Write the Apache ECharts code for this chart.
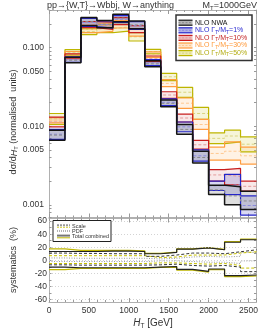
<!DOCTYPE html>
<html><head><meta charset="utf-8">
<script src="https://cdn.jsdelivr.net/npm/echarts@6/dist/echarts.min.js"></script>
<style>html,body{margin:0;padding:0;background:#fff}#c{width:270px;height:331px}</style>
</head><body><div id="c"></div>
<script>
// ---------- data ----------
const binEdges = [0,200,400,600,800,1000,1200,1400,1600,1800,2000,2200,2400,2600];

const nwaLo  = [0.0066,0.064,0.190,0.178,0.213,0.173,0.057,0.0177,0.0079,0.0034,0.00135,0.0010,0.00087];
const nwaMid = [0.0077,0.069,0.214,0.198,0.237,0.194,0.062,0.0195,0.0091,0.0040,0.00155,0.0013,0.00112];
const nwaHi  = [0.0089,0.075,0.240,0.221,0.264,0.217,0.068,0.0215,0.0105,0.0048,0.00177,0.0017,0.00149];

const w1Lo   = [0.0068,0.065,0.185,0.176,0.207,0.170,0.059,0.0182,0.0085,0.0036,0.00152,0.00135,0.00074];
const w1Mid  = [0.0079,0.070,0.208,0.196,0.229,0.190,0.064,0.0201,0.0098,0.0042,0.00175,0.0018,0.00098];
const w1Hi   = [0.0091,0.076,0.235,0.218,0.254,0.213,0.070,0.0222,0.0113,0.0050,0.0020,0.00244,0.0013];

const w10Lo  = [0.0098,0.072,0.179,0.170,0.195,0.155,0.066,0.0226,0.0113,0.0051,0.0020,0.0018,0.00149];
const w10Mid = [0.0113,0.077,0.196,0.189,0.216,0.172,0.072,0.0249,0.0127,0.0058,0.0024,0.0023,0.00172];
const w10Hi  = [0.0130,0.083,0.214,0.210,0.240,0.190,0.078,0.0274,0.0142,0.0066,0.0028,0.0029,0.0020];

const w30Lo  = [0.0110,0.077,0.155,0.160,0.177,0.140,0.075,0.0318,0.0168,0.0091,0.0037,0.0037,0.0033];
const w30Mid = [0.0119,0.083,0.170,0.179,0.197,0.155,0.081,0.0350,0.0196,0.0105,0.0045,0.0048,0.0042];
const w30Hi  = [0.0128,0.089,0.185,0.200,0.220,0.170,0.088,0.0390,0.0228,0.0122,0.0054,0.0063,0.0054];

const w50Lo  = [0.0105,0.080,0.146,0.155,0.162,0.121,0.083,0.0380,0.0233,0.0122,0.0060,0.0063,0.0047];
const w50Mid = [0.0124,0.087,0.159,0.174,0.183,0.137,0.089,0.0425,0.0270,0.0145,0.0070,0.0075,0.0059];
const w50Hi  = [0.0145,0.094,0.173,0.195,0.207,0.155,0.095,0.0470,0.0312,0.0173,0.0082,0.0089,0.0073];

// systematics (%)
const totUpBlack    = [13.5,13.5,13.5,14,14,13.5,10,12,17,19,16,27.5,31.5];
const totUpYellow   = [17.5,15,15,15,15,14.5,10.5,12.5,17.5,19.5,16.5,28.5,32.5];
const scaleUpBlack  = [11,10.5,10.5,10,10,10,6,8,11,11,10,13,16];
const scaleUpYellow = [7,7,7,7,7,7,4,5,8,8,8,11,13];
const pdfUp         = [3.5,3,3,3,3,3,2,3,5,6,5,6,12];
const pdfLo         = [-2,-2,-2,-2,-2,-2,-1,-1,-2,-3,-3,-5,-1];
const scaleLoYellow = [-5,-5,-5,-5,-5,-5,-4,-4,-5,-6,-5,-8,-12];
const scaleLoBlack  = [-7,-7.5,-7.5,-7.5,-7.5,-7.5,-7,-6,-8,-9,-8,-10.5,-17.5];
const totLoBlack    = [-10.5,-11.5,-11.5,-11.5,-11.5,-11.5,-10.5,-9.5,-14,-17,-13.5,-23.5,-22.5];
const totLoYellow   = [-14.5,-12.5,-12.5,-12.5,-12.5,-12.5,-11,-10.5,-15,-18,-14.5,-25,-24];

const topLabels = [0.001,0.005,0.01,0.05,0.1];
const topTicks = [0.0007,0.0008,0.0009,0.001,0.002,0.003,0.004,0.005,0.006,0.007,0.008,0.009,0.01,0.02,0.03,0.04,0.05,0.06,0.07,0.08,0.09,0.1,0.2,0.3];
const botLabels = [-60,-40,-20,0,20,40,60];
const botTicks = [-60,-50,-40,-30,-20,-10,0,10,20,30,40,50,60];

// ---------- styles ----------
const groups = [
  {key:'w50', lo:w50Lo, mid:w50Mid, hi:w50Hi, line:'#bdb500', fill:'rgba(215,210,80,0.22)', midc:'#d9d480', text:'#b3ac10', lw:1.2},
  {key:'w30', lo:w30Lo, mid:w30Mid, hi:w30Hi, line:'#ff9d40', fill:'rgba(255,195,130,0.22)', midc:'#ffc890', text:'#ff9a3c', lw:1.2},
  {key:'w10', lo:w10Lo, mid:w10Mid, hi:w10Hi, line:'#c81e1e', fill:'rgba(215,100,100,0.15)', midc:'#e39a9a', text:'#c42424', lw:1.2},
  {key:'w1',  lo:w1Lo,  mid:w1Mid,  hi:w1Hi,  line:'#2424c8', fill:'rgba(80,80,200,0.22)', midc:'#8a8ae0', text:'#2a2ad0', lw:1.2},
  {key:'nwa', lo:nwaLo, mid:nwaMid, hi:nwaHi, line:'#151515', fill:'rgba(90,90,90,0.20)', midc:'#8a8a8a', text:'#111', lw:1.5}
];

function stepData(arr){
  const d = arr.map((v,i)=>[binEdges[i], v]);
  d.push([binEdges[binEdges.length-1], arr[arr.length-1]]);
  return d;
}
function bandData(lo, hi){
  return lo.map((v,i)=>[binEdges[i], binEdges[i+1], v, hi[i]]);
}
function bandRender(fill){
  return function(params, api){
    const p0 = api.coord([api.value(0), api.value(3)]);
    const p1 = api.coord([api.value(1), api.value(2)]);
    return {type:'rect', shape:{x:p0[0], y:p0[1], width:p1[0]-p0[0], height:p1[1]-p0[1]}, style:{fill:fill}};
  };
}

const series = [];
groups.forEach(g=>{
  series.push({type:'custom', xAxisIndex:0, yAxisIndex:0, renderItem:bandRender(g.fill), data:bandData(g.lo,g.hi), encode:{x:[0,1], y:[2,3]}, silent:true});
  series.push({type:'line', xAxisIndex:0, yAxisIndex:0, step:'end', symbol:'none', data:stepData(g.mid), lineStyle:{color:g.midc, width:1, type:[3,2]}, silent:true});
  series.push({type:'line', xAxisIndex:0, yAxisIndex:0, step:'end', symbol:'none', data:stepData(g.lo), lineStyle:{color:g.line, width:g.lw}, silent:true});
  series.push({type:'line', xAxisIndex:0, yAxisIndex:0, step:'end', symbol:'none', data:stepData(g.hi), lineStyle:{color:g.line, width:g.lw}, silent:true});
});

function botLine(arr, color, width, type, extra){
  const s = {type:'line', xAxisIndex:2, yAxisIndex:2, step:'end', symbol:'none', data:stepData(arr), lineStyle:{color:color, width:width, type:type}, silent:true};
  return Object.assign(s, extra||{});
}
series.push(botLine(pdfUp, '#9a9a9a', 1, [1,1.5], {markLine:{silent:true, symbol:'none', label:{show:false}, lineStyle:{color:'#c8c8c8', width:0.8, type:[1,2]}, data:botLabels.map(v=>({yAxis:v}))}}));
series.push(botLine(pdfLo, '#9a9a9a', 1, [1,1.5]));
series.push(botLine(scaleUpYellow, '#c9c200', 1, [3,2]));
series.push(botLine(scaleLoYellow, '#c9c200', 1, [3,2]));
series.push(botLine(scaleUpBlack, '#333', 1, [3,2]));
series.push(botLine(scaleLoBlack, '#333', 1, [3,2]));
series.push(botLine(totUpYellow, '#bdb500', 1.3, 'solid'));
series.push(botLine(totLoYellow, '#bdb500', 1.3, 'solid'));
series.push(botLine(totUpBlack, '#222', 1.1, 'solid'));
series.push(botLine(totLoBlack, '#222', 1.1, 'solid'));

// ---------- axes ----------
const FONT = 'Liberation Sans';
const axisGray = '#b0b0b0';
function xAx(grid, pos){
  return {type:'value', gridIndex:grid, position:pos, min:0, max:2600, interval:500,
    axisLine:{show:true, onZero:false, lineStyle:{color:axisGray, width:1}},
    axisTick:{show:true, inside:true, length:4, lineStyle:{color:'#999'}},
    minorTick:{show:true, splitNumber:5, length:2, lineStyle:{color:'#999'}},
    axisLabel:{show:false}, splitLine:{show:false}};
}
const xAxes = [xAx(0,'bottom'), xAx(0,'top'), xAx(1,'bottom'), xAx(1,'top')];
xAxes[2].axisLabel = {show:true, fontFamily:FONT, fontSize:8.5, color:'#333', margin:4, formatter:v=>String(v)};

function yTop(pos, labels){
  return {type:'log', logBase:10, gridIndex:0, position:pos, min:0.00069, max:0.3,
    axisLine:{show:true, onZero:false, lineStyle:{color:axisGray}},
    axisTick:{show:true, inside:true, length:2.5, customValues:topTicks, lineStyle:{color:'#999'}},
    axisLabel:labels ? {show:true, customValues:topLabels, formatter:v=>Number(v).toFixed(3), fontFamily:FONT, fontSize:8.5, color:'#333', margin:5} : {show:false},
    splitLine:{show:false}};
}
function yBot(pos, labels){
  return {type:'value', gridIndex:1, position:pos, min:-64, max:64,
    axisLine:{show:true, onZero:false, lineStyle:{color:axisGray}},
    axisTick:{show:true, inside:true, length:2.5, customValues:botTicks, lineStyle:{color:'#999'}},
    axisLabel:labels ? {show:true, customValues:botLabels, formatter:v=>String(v), fontFamily:FONT, fontSize:8.5, color:'#333', margin:2} : {show:false},
    splitLine:{show:false}};
}

// ---------- legend (graphic) ----------
const legendEntries = [
  {g:groups[4], txt:'{a|NLO NWA}'},
  {g:groups[3], txt:'{a|NLO Γ}{s|T}{a|/M}{s|T}{a|=1%}'},
  {g:groups[2], txt:'{a|NLO Γ}{s|T}{a|/M}{s|T}{a|=10%}'},
  {g:groups[1], txt:'{a|NLO Γ}{s|T}{a|/M}{s|T}{a|=30%}'},
  {g:groups[0], txt:'{a|NLO Γ}{s|T}{a|/M}{s|T}{a|=50%}'}
];
const graphics = [];
graphics.push({type:'rect', shape:{x:176, y:15, width:76, height:45.5}, style:{fill:'#fff', stroke:'#333', lineWidth:1.5}, z:100});
legendEntries.forEach((e,i)=>{
  const cy = 22.7 + i*7.6;
  graphics.push({type:'rect', shape:{x:178.5, y:cy-2.5, width:14, height:5}, style:{fill:e.g.fill.replace(/0\.\d+\)$/,'0.45)')}, z:101});
  graphics.push({type:'line', shape:{x1:178.5, y1:cy-2.5, x2:192.5, y2:cy-2.5}, style:{stroke:e.g.line, lineWidth:1.2}, z:102});
  graphics.push({type:'line', shape:{x1:178.5, y1:cy+2.5, x2:192.5, y2:cy+2.5}, style:{stroke:e.g.line, lineWidth:1.2}, z:102});
  graphics.push({type:'line', shape:{x1:178.5, y1:cy, x2:192.5, y2:cy}, style:{stroke:e.g.midc, lineWidth:1, lineDash:[2,1.5]}, z:102});
  graphics.push({type:'text', x:195, y:cy, z:102, style:{text:e.txt, verticalAlign:'middle', fill:e.g.text,
    rich:{a:{fontFamily:FONT, fontSize:7, fill:e.g.text, lineHeight:9}, s:{fontFamily:FONT, fontSize:5, fill:e.g.text, lineHeight:9, verticalAlign:'bottom', padding:[3,0,0,0]}}}});
});
// bottom legend
graphics.push({type:'rect', shape:{x:53, y:220.5, width:58, height:21}, style:{fill:'#fff', stroke:'#222', lineWidth:1}, z:100});
const bl = [
  {y:226, txt:'Scale'}, {y:231, txt:'PDF'}, {y:236.5, txt:'Total combined'}
];
graphics.push({type:'line', shape:{x1:57, y1:225.3, x2:70, y2:225.3}, style:{stroke:'#999', lineWidth:2, lineDash:[2,1]}, z:101});
graphics.push({type:'line', shape:{x1:57, y1:227.3, x2:70, y2:227.3}, style:{stroke:'#c9c200', lineWidth:0.8, lineDash:[2,1]}, z:101});
graphics.push({type:'line', shape:{x1:57, y1:231, x2:70, y2:231}, style:{stroke:'#999', lineWidth:1.5, lineDash:[1,1]}, z:101});
graphics.push({type:'line', shape:{x1:57, y1:235.6, x2:70, y2:235.6}, style:{stroke:'#777', lineWidth:2}, z:101});
graphics.push({type:'line', shape:{x1:57, y1:237.8, x2:70, y2:237.8}, style:{stroke:'#bdb500', lineWidth:1}, z:101});
bl.forEach(b=>{
  graphics.push({type:'text', x:72, y:b.y, z:101, style:{text:b.txt, fontFamily:FONT, fontSize:5.5, fill:'#333', verticalAlign:'middle'}});
});
// titles
graphics.push({type:'text', x:47, y:5.5, style:{text:'pp→{W,T}→Wbbj, W→anything', fontFamily:FONT, fontSize:9, fill:'#333', verticalAlign:'middle'}});
graphics.push({type:'text', x:257, y:5.5, style:{text:'{a|M}{s|T}{a|=1000GeV}', align:'right', verticalAlign:'middle',
  rich:{a:{fontFamily:FONT, fontSize:9, fill:'#333', lineHeight:11}, s:{fontFamily:FONT, fontSize:6, fill:'#333', lineHeight:11, verticalAlign:'bottom', padding:[3,0,0,0]}}}});
graphics.push({type:'text', x:14, y:122, rotation:Math.PI/2, style:{text:'{a|dσ/d}{i|H}{s|T}{a| (normalised  units)}', align:'center', verticalAlign:'middle',
  rich:{a:{fontFamily:FONT, fontSize:9, fill:'#333', lineHeight:11}, i:{fontFamily:FONT, fontSize:9, fontStyle:'italic', fill:'#333', lineHeight:11}, s:{fontFamily:FONT, fontSize:6, fill:'#333', lineHeight:11, verticalAlign:'bottom', padding:[3,0,0,0]}}}});
graphics.push({type:'text', x:14, y:260, rotation:Math.PI/2, style:{text:'systematics  (%)', fontFamily:FONT, fontSize:9, fill:'#333', align:'center', verticalAlign:'middle'}});
graphics.push({type:'text', x:153, y:323.5, style:{text:'{i|H}{s|T}{a| [GeV]}', align:'center', verticalAlign:'middle',
  rich:{a:{fontFamily:FONT, fontSize:10, fill:'#333', lineHeight:12}, i:{fontFamily:FONT, fontSize:10, fontStyle:'italic', fill:'#333', lineHeight:12}, s:{fontFamily:FONT, fontSize:6.5, fill:'#333', lineHeight:12, verticalAlign:'bottom', padding:[3,0,0,0]}}}});

const chart = echarts.init(document.getElementById('c'), null, {renderer:'canvas'});
chart.setOption({
  animation:false,
  backgroundColor:'#fff',
  grid:[
    {left:49, top:10, width:207.5, height:207.5, show:false},
    {left:49, top:218.5, width:207.5, height:83.5, show:false}
  ],
  xAxis:xAxes,
  yAxis:[yTop('left',true), yTop('right',false), yBot('left',true), yBot('right',false)],
  series:series,
  graphic:graphics
});
</script></body></html>
